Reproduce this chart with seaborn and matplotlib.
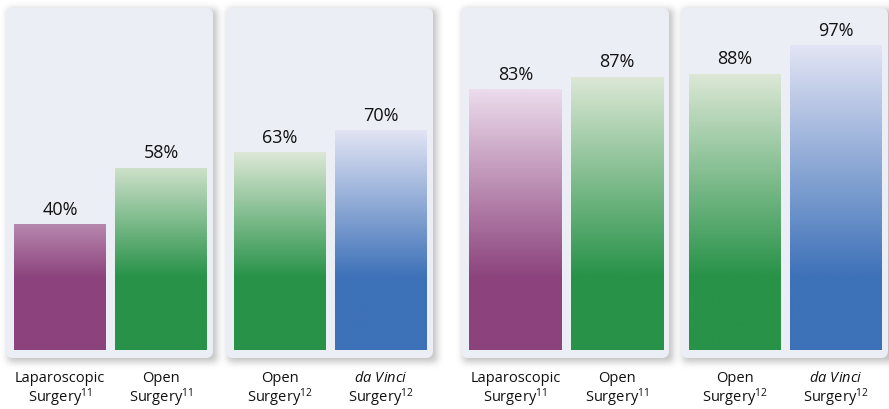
import numpy as np
import pandas as pd
import matplotlib
matplotlib.use("Agg")
import matplotlib.pyplot as plt
import matplotlib.colors as mcolors
from matplotlib.patches import FancyBboxPatch
import seaborn as sns

# ── Data ───────────────────────────────────────────────────────────────────────
LAP_OPEN_LABELS = ["Laparoscopic\nSurgery$^{11}$", "Open\nSurgery$^{11}$"]
OPEN_DV_LABELS = ["Open\nSurgery$^{12}$", "$\\mathit{da\\ Vinci}$\nSurgery$^{12}$"]
LAP_OPEN_KINDS = ["lap", "open"]
OPEN_DV_KINDS = ["open", "davinci"]

values_1 = [40, 58]
values_2 = [63, 70]
values_3 = [83, 87]
values_4 = [88, 97]

PANELS = [
    (LAP_OPEN_LABELS, LAP_OPEN_KINDS, values_1),
    (OPEN_DV_LABELS, OPEN_DV_KINDS, values_2),
    (LAP_OPEN_LABELS, LAP_OPEN_KINDS, values_3),
    (OPEN_DV_LABELS, OPEN_DV_KINDS, values_4),
]

# ── Style ──────────────────────────────────────────────────────────────────────
W, H = 889, 409
PANEL_BOXES = [(6, 8, 213, 358), (226, 8, 433, 358), (461, 8, 669, 358), (681, 8, 888, 358)]
SOLID = {"lap": "#8c437d", "open": "#279248", "davinci": "#3d71b8"}
LIGHT = {"lap": "#ecdcec", "open": "#dde8d6", "davinci": "#e2e4f4"}
PANEL_BG = "#eceef6"
TEXT = "#111111"
SOLID_LEVEL = 23
YMIN, YMAX = -2.55, 108.9

sns.set_theme(style="white")
plt.rcParams["font.family"] = ["Open Sans", "DejaVu Sans"]
plt.rcParams["mathtext.fontset"] = "custom"
plt.rcParams["mathtext.rm"] = "Open Sans"
plt.rcParams["mathtext.it"] = "Open Sans:italic"


def box_blur(a, r, n=3):
    for _ in range(n):
        for axis in (0, 1):
            pad = [(0, 0), (0, 0)]
            pad[axis] = (r + 1, r)
            p = np.pad(a, pad, mode="edge")
            c = np.cumsum(p, axis=axis)
            if axis == 0:
                a = (c[2 * r + 1:, :] - c[:-2 * r - 1, :]) / (2 * r + 1)
            else:
                a = (c[:, 2 * r + 1:] - c[:, :-2 * r - 1]) / (2 * r + 1)
    return a


def bar_gradient(kind, h, n=256):
    y = np.linspace(0, h, n)
    span = max(h - SOLID_LEVEL, 1e-6)
    t = np.clip((y - SOLID_LEVEL) / span, 0, 1) * min(1.0, span / 38)
    s = np.array(mcolors.to_rgb(SOLID[kind]))
    l = np.array(mcolors.to_rgb(LIGHT[kind]))
    rgb = s[None, :] + (l - s)[None, :] * t[:, None]
    return rgb[:, None, :]


fig = plt.figure(figsize=(W / 100, H / 100), dpi=100)
fig.patch.set_facecolor("white")

# background: soft shadows + rounded panels
bg = fig.add_axes([0, 0, 1, 1], zorder=-1)
bg.set_xlim(0, W)
bg.set_ylim(H, 0)
bg.axis("off")
mask = np.zeros((H, W))
for x0, y0, x1, y1 in PANEL_BOXES:
    mask[y0 + 1:y1 + 4, x0 + 2:x1 + 4] = 1
mask = box_blur(mask, 3)
shadow = np.zeros((H, W, 4))
shadow[..., :3] = 0.42
shadow[..., 3] = mask * 0.42
bg.imshow(shadow, extent=[0, W, H, 0], origin="upper", aspect="auto", interpolation="bilinear")
for x0, y0, x1, y1 in PANEL_BOXES:
    bg.add_patch(FancyBboxPatch((x0, y0), x1 - x0, y1 - y0,
                                boxstyle="round,pad=0,rounding_size=7",
                                fc=PANEL_BG, ec="none"))
bg.set_xlim(0, W)
bg.set_ylim(H, 0)

for (labels, kinds, values), (x0, y0, x1, y1) in zip(PANELS, PANEL_BOXES):
    ax = fig.add_axes([x0 / W, 1 - y1 / H, (x1 - x0) / W, (y1 - y0) / H])
    ax.set_facecolor("none")
    df = pd.DataFrame({"label": labels, "value": values, "kind": kinds})
    sns.barplot(data=df, x="label", y="value", hue="label",
                palette=[SOLID[k] for k in kinds], legend=False,
                width=0.91, saturation=1, linewidth=0, ax=ax)

    for patch, kind in zip(ax.patches, kinds):
        patch.set_linewidth(0)
        bx, bw, bh = patch.get_x(), patch.get_width(), patch.get_height()
        im = ax.imshow(bar_gradient(kind, bh), extent=[bx, bx + bw, 0, bh],
                       origin="lower", aspect="auto", interpolation="bilinear",
                       zorder=patch.get_zorder() + 0.1)
        im.set_clip_path(patch)

    for container, v in zip(ax.containers, values):
        ax.bar_label(container, labels=[f"{v}%"], padding=4,
                     fontsize=13, color=TEXT)

    ax.set_xlim(-0.535, 1.515)
    ax.set_ylim(YMIN, YMAX)
    ax.set_xticks([0, 1])
    ax.set_xticklabels(labels, fontsize=10.5, color=TEXT, linespacing=1.05)
    ax.tick_params(axis="x", length=0, pad=9)
    ax.set_yticks([])
    ax.set_xlabel("")
    ax.set_ylabel("")
    for s in ax.spines.values():
        s.set_visible(False)

fig.savefig("out.png", dpi=100, facecolor="white")
